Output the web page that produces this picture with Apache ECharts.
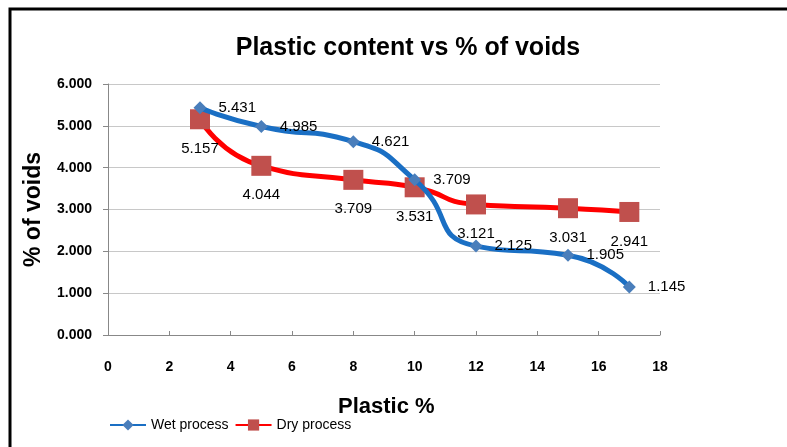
<!DOCTYPE html>
<html>
<head>
<meta charset="utf-8">
<script src="https://cdn.jsdelivr.net/npm/echarts@6/dist/echarts.min.js"></script>
<style>
  html,body{margin:0;padding:0;background:#fff;}
  #main{width:787px;height:447px;}
</style>
</head>
<body>
<div id="main"></div>
<script>
var plastic=[3,5,8,10,12,15,17];
var wetProcess=[5.431,4.985,4.621,3.709,2.125,1.905,1.145];
var dryProcess=[5.157,4.044,3.709,3.531,3.121,3.031,2.941];

var font="'Liberation Sans Narrow','Liberation Sans',sans-serif";

function pairs(xs,ys){
    return xs.map(function(x,i){ return [x,ys[i]]; });
}

var myChart=echarts.init(document.getElementById('main'));

var option={
    backgroundColor:'#fff',
    animation:false,
    title:{
        text:'Plastic content vs % of voids',
        left:403,
        top:31,
        textAlign:'center',
        textStyle:{fontFamily:font,fontSize:25,fontWeight:'bold',color:'#000'}
    },
    graphic:[{
        type:'rect',
        shape:{x:10,y:9,width:820,height:480},
        style:{fill:'none',stroke:'#000',lineWidth:3}
    },{
        type:'text',
        left:338,
        top:396,
        style:{text:'Plastic %',fontFamily:font,fontSize:22,fontWeight:'bold',fill:'#000'}
    }],
    legend:{
        left:104,
        top:413,
        itemGap:6,
        itemWidth:36,
        itemHeight:14,
        textStyle:{fontFamily:font,fontSize:14,color:'#000'},
        data:['Wet process','Dry process']
    },
    grid:{left:108,right:127,top:84,bottom:112},
    xAxis:{
        type:'value',
        min:0,max:18,interval:2,
        axisLine:{lineStyle:{color:'#888'}},
        axisTick:{inside:true,length:4,lineStyle:{color:'#888'}},
        axisLabel:{margin:25,fontFamily:font,fontSize:14,fontWeight:'bold',color:'#000'},
        splitLine:{show:false}
    },
    yAxis:{
        type:'value',
        min:0,max:6,interval:1,
        name:'% of voids',
        nameLocation:'middle',
        nameGap:63,
        nameTextStyle:{fontFamily:font,fontSize:23,fontWeight:'bold',color:'#000'},
        axisLine:{show:true,lineStyle:{color:'#888'}},
        axisTick:{show:true,length:5,lineStyle:{color:'#888'}},
        axisLabel:{margin:16,fontFamily:font,fontSize:14,fontWeight:'bold',color:'#000',
            formatter:function(v){ return v.toFixed(3); }},
        splitLine:{lineStyle:{color:'#c8c8c8'}}
    },
    series:[{
        name:'Wet process',
        type:'line',
        smooth:0.6,
        data:pairs(plastic,wetProcess),
        symbol:'diamond',
        symbolSize:13,
        itemStyle:{color:'#4a7ebb'},
        lineStyle:{color:'#1a6fc4',width:5},
        label:{show:true,position:'right',distance:12,fontFamily:font,fontSize:15,color:'#000',
            formatter:function(p){ return p.value[1].toFixed(3); }},
        z:3
    },{
        name:'Dry process',
        type:'line',
        smooth:0.6,
        data:pairs(plastic,dryProcess),
        symbol:'rect',
        symbolSize:20,
        itemStyle:{color:'#c0504d'},
        lineStyle:{color:'#ff0000',width:5},
        label:{show:true,position:'bottom',distance:12,fontFamily:font,fontSize:15,color:'#000',
            formatter:function(p){ return p.value[1].toFixed(3); }},
        z:2
    }]
};

myChart.setOption(option);
</script>
</body>
</html>
